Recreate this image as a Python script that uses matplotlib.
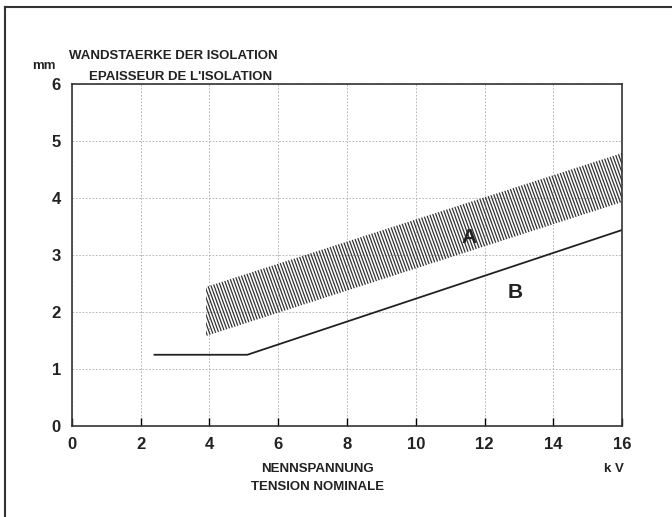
import numpy as np
import matplotlib.pyplot as plt
from matplotlib.lines import Line2D
from matplotlib.patches import Polygon

plt.rcParams['font.family'] = ['DejaVu Sans Condensed', 'Liberation Sans', 'DejaVu Sans']

# band A: lower and upper limit of wall thickness (mm) vs voltage (kV)
a_kv = [3.9, 16.0]
a_low = [1.58, 3.93]
a_high = [2.44, 4.79]

# line B
b_kv = [2.4, 5.1, 16.0]
b_mm = [1.25, 1.25, 3.44]

xticks = [0, 2, 4, 6, 8, 10, 12, 14, 16]
yticks = [0, 1, 2, 3, 4, 5, 6]

fig = plt.figure(figsize=(6.72, 5.17), dpi=100)
ax = fig.add_axes([0.107, 0.176, 0.819, 0.6615])

# band outline, used as clip path for a dense steep hatch
band = Polygon(list(zip(a_kv, a_low)) + list(zip(a_kv[::-1], a_high[::-1])),
               closed=True, facecolor='none', edgecolor='none')
ax.add_patch(band)
step = 0.09
for x0 in np.arange(a_kv[0] - 4.5, a_kv[1] + 1, step):
    ln, = ax.plot([x0, x0 + 0.6 * 6], [6, 0], color='#333333', lw=0.9)
    ln.set_clip_path(band)

ax.plot(b_kv, b_mm, color='#222222', lw=1.3)

ax.set_xlim(0, 16)
ax.set_ylim(0, 6)
ax.set_xticks(xticks)
ax.set_yticks(yticks)
ax.grid(True, color='#aaaaaa', lw=0.6, ls=(0, (2, 2)))
ax.tick_params(axis='x', direction='in', length=6, width=1, pad=8, labelsize=12)
ax.tick_params(axis='y', length=0, pad=8, labelsize=12)
for lab in ax.get_xticklabels() + ax.get_yticklabels():
    lab.set_fontweight('bold')
    lab.set_color('#222222')
for s in ax.spines.values():
    s.set_linewidth(1.2)
    s.set_color('#333333')

ax.text(11.55, 3.3, 'A', fontsize=15, fontweight='bold', ha='center', va='center', color='#222222')
ax.text(12.9, 2.35, 'B', fontsize=15, fontweight='bold', ha='center', va='center', color='#222222')

fs = 9.5
fig.text(173 / 672, 1 - 56 / 517, 'WANDSTAERKE DER ISOLATION', ha='center', va='center',
         fontsize=fs, fontweight='bold', color='#222222')
fig.text(181 / 672, 1 - 77 / 517, "EPAISSEUR DE L'ISOLATION", ha='center', va='center',
         fontsize=fs, fontweight='bold', color='#222222')
fig.text(44 / 672, 1 - 66 / 517, 'mm', ha='center', va='center',
         fontsize=fs, fontweight='bold', color='#222222')
fig.text(318 / 672, 1 - 469 / 517, 'NENNSPANNUNG', ha='center', va='center',
         fontsize=fs, fontweight='bold', color='#222222')
fig.text(318 / 672, 1 - 487 / 517, 'TENSION NOMINALE', ha='center', va='center',
         fontsize=fs, fontweight='bold', color='#222222')
fig.text(614 / 672, 1 - 469 / 517, 'k V', ha='center', va='center',
         fontsize=fs, fontweight='bold', color='#222222')

# outer frame (top and left edges only)
fig.add_artist(Line2D([5 / 672, 5 / 672], [0, 1 - 7 / 517], transform=fig.transFigure,
                      color='#333333', lw=1.5))
fig.add_artist(Line2D([5 / 672, 1], [1 - 7 / 517, 1 - 7 / 517], transform=fig.transFigure,
                      color='#333333', lw=1.5))

fig.savefig('out.png', dpi=100)
